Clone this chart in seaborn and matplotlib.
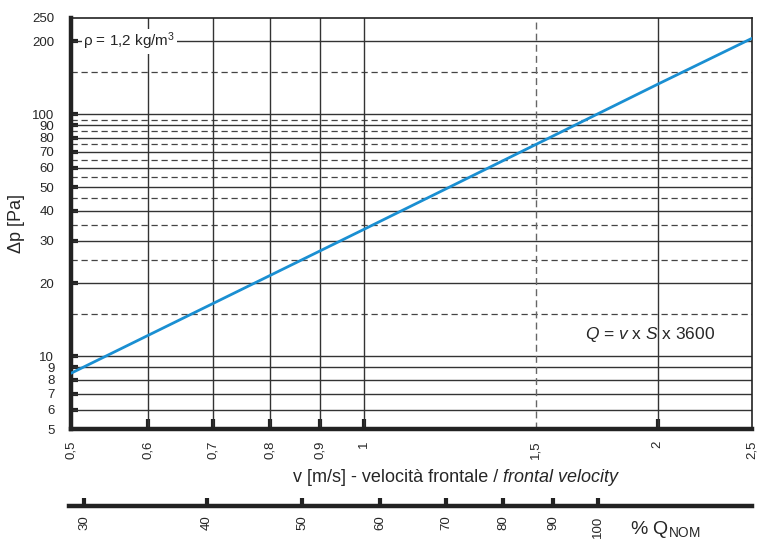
import matplotlib.pyplot as plt
import seaborn as sns
import pandas as pd
from matplotlib.ticker import FixedLocator, NullLocator

# dati
velocita = [0.5, 1.0, 1.5, 2.0, 2.5]
perdita = [8.5, 33.5, 75, 133, 206]

x_ticks = [0.5, 0.6, 0.7, 0.8, 0.9, 1.0, 1.5, 2.0, 2.5]
x_labels = ["0,5", "0,6", "0,7", "0,8", "0,9", "1", "1,5", "2", "2,5"]
y_ticks = [5, 6, 7, 8, 9, 10, 20, 30, 40, 50, 60, 70, 80, 90, 100, 200, 250]
y_solid = [6, 7, 8, 9, 10, 20, 30, 40, 50, 60, 70, 80, 90, 100, 200]
y_dashed = [15, 25, 35, 45, 55, 65, 75, 85, 95, 150]
x_solid = [0.6, 0.7, 0.8, 0.9, 1.0, 2.0]
x_dashed = [1.5]
q_ticks = [30, 40, 50, 60, 70, 80, 90, 100]
q_range = (28.96, 143.4)  # estremi della scala % Q_NOM

sns.set_style("white")
plt.rcParams['font.family'] = ['Liberation Sans', 'DejaVu Sans']
plt.rcParams['mathtext.fontset'] = 'custom'
plt.rcParams['mathtext.rm'] = 'Liberation Sans'
plt.rcParams['mathtext.it'] = 'Liberation Sans:italic'

df = pd.DataFrame({'v': velocita, 'dp': perdita})

fig = plt.figure(figsize=(7.59, 5.43), dpi=100)
ax = fig.add_axes([0.0935, 0.2099, 0.8973, 0.757])

for y in y_solid:
    ax.axhline(y, color='#333333', lw=1.0, zorder=1)
for y in y_dashed:
    ax.axhline(y, color='#444444', lw=0.9, ls=(0, (5, 3)), zorder=1)
for x in x_solid:
    ax.axvline(x, color='#333333', lw=1.0, zorder=1)
for x in x_dashed:
    ax.axvline(x, color='#666666', lw=1.0, ls=(0, (5, 3)), zorder=1)

sns.lineplot(data=df, x='v', y='dp', ax=ax, color='#1a8fd2', lw=2.0, zorder=3)

ax.set_xscale('log')
ax.set_yscale('log')
ax.set_xlim(0.5, 2.5)
ax.set_ylim(5, 250)

ax.xaxis.set_major_locator(FixedLocator(x_ticks))
ax.xaxis.set_minor_locator(NullLocator())
ax.set_xticklabels(x_labels, rotation=90, fontsize=9.5)
ax.yaxis.set_major_locator(FixedLocator(y_ticks))
ax.yaxis.set_minor_locator(NullLocator())
ax.set_yticklabels([str(t) for t in y_ticks], fontsize=9.5)

ax.tick_params(axis='x', bottom=True, direction='in', length=7, width=3,
               color='#222222', pad=8)
ax.tick_params(axis='y', left=True, direction='in', length=5, width=3,
               color='#222222', pad=12)
for t in ax.xaxis.get_major_ticks():
    if t.get_loc() in (0.5, 1.5, 2.5):
        t.tick1line.set_visible(False)
for t in ax.yaxis.get_major_ticks():
    if t.get_loc() in (5, 250):
        t.tick1line.set_visible(False)

for side in ['top', 'right']:
    ax.spines[side].set_linewidth(1.2)
    ax.spines[side].set_color('#222222')
for side in ['left', 'bottom']:
    ax.spines[side].set_linewidth(3.2)
    ax.spines[side].set_color('#222222')

ax.set_xlabel('')
ax.set_ylabel('Δp [Pa]', fontsize=13, labelpad=5)

fig.text(0.663, 0.121, 'v [m/s] - velocità frontale / ', ha='right', va='center', fontsize=13)
fig.text(0.663, 0.121, 'frontal velocity', ha='left', va='center', fontsize=13, style='italic')

ax.text(0.018, 200, 'ρ = 1,2 kg/m$^3$', ha='left', va='center', fontsize=11,
        transform=ax.get_yaxis_transform(), zorder=4,
        bbox=dict(facecolor='white', edgecolor='none', pad=1))
ax.text(0.755, 0.229, r'$Q$ = $v$ x $S$ x 3600', transform=ax.transAxes, ha='left',
        va='center', fontsize=12.5)

# asse secondario % Q_NOM
ax2 = fig.add_axes([0.0909, 0.0681, 0.9, 0.001])
ax2.set_xscale('log')
ax2.set_xlim(*q_range)
ax2.set_yticks([])
ax2.xaxis.set_major_locator(FixedLocator(q_ticks))
ax2.xaxis.set_minor_locator(NullLocator())
ax2.set_xticklabels([str(q) for q in q_ticks], rotation=90, fontsize=9.5)
ax2.tick_params(axis='x', bottom=True, direction='in', length=6, width=3,
                color='#222222', pad=7)
for side in ['top', 'right', 'left']:
    ax2.spines[side].set_visible(False)
ax2.spines['bottom'].set_linewidth(3.2)
ax2.spines['bottom'].set_color('#222222')
fig.text(0.83, 0.025, r'% Q$_{\mathrm{NOM}}$', fontsize=14, ha='left', va='center')

fig.savefig('out.png', dpi=100)
